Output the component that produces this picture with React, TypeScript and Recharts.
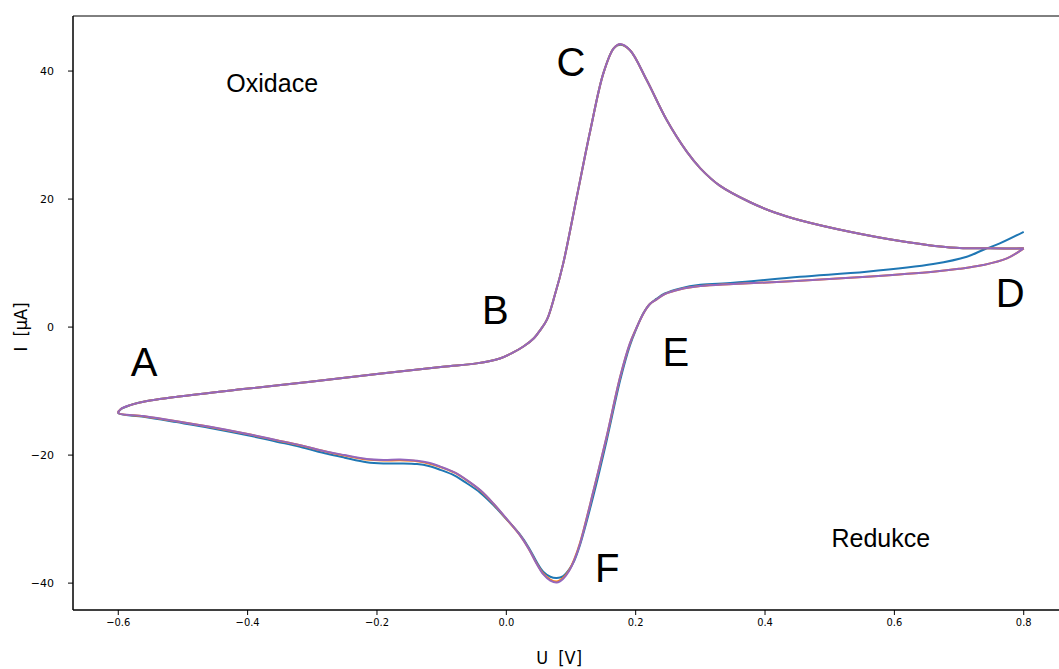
import React from 'react';
import {
  LineChart,
  Line,
  XAxis,
  YAxis,
  ReferenceArea,
  ReferenceDot,
} from 'recharts';

// later cycles: D -> E -> F -> A (reverse scan), then A -> B -> C -> D
const uSweep = [
  0.8, 0.774, 0.737, 0.7, 0.66, 0.557, 0.454, 0.351, 0.3, 0.269, 0.245, 0.232,
  0.222, 0.212, 0.2, 0.191, 0.176, 0.155, 0.135, 0.114, 0.105, 0.097, 0.088,
  0.078, 0.068, 0.057, 0.047, 0.035, 0.021, 0.0, -0.02, -0.04, -0.061, -0.08,
  -0.102, -0.12, -0.138, -0.164, -0.19, -0.216, -0.25, -0.277, -0.319, -0.355,
  -0.4, -0.458, -0.51, -0.561, -0.6,
  -0.596, -0.5815, -0.561, -0.509, -0.407, -0.303, -0.2, -0.098, -0.046,
  -0.01, 0.01, 0.027, 0.043, 0.053, 0.063, 0.075, 0.088, 0.109, 0.13, 0.15,
  0.166, 0.176, 0.191, 0.217, 0.248, 0.279, 0.3, 0.33, 0.377, 0.415, 0.454,
  0.531, 0.609, 0.686, 0.748, 0.8,
];

const iPurple = [
  12.3, 10.73, 9.69, 9.1, 8.64, 7.86, 7.23, 6.72, 6.4, 5.9, 5.15, 4.3, 3.6,
  2.14, -0.4, -2.55, -7.77, -17.14, -25.47, -33.8, -36.4, -38.1, -39.3, -39.9,
  -39.6, -38.6, -37.0, -34.7, -32.5, -29.9, -27.55, -25.5, -23.9, -22.7, -21.8,
  -21.2, -20.9, -20.7, -20.75, -20.6, -20.0, -19.48, -18.44, -17.66, -16.7,
  -15.58, -14.7, -13.9, -13.39,
  -12.8, -12.19, -11.67, -10.89, -9.69, -8.55, -7.34, -6.2, -5.67, -4.9, -4.0,
  -3.0, -1.7, -0.4, 1.2, 5.0, 9.95, 20.36, 30.78, 39.64, 43.55, 44.22, 43.28,
  38.59, 32.34, 27.4, 24.8, 22.1, 19.5, 17.9, 16.7, 14.9, 13.45, 12.45, 12.3,
  12.3,
];

const iOrange = [
  12.3, 10.73, 9.69, 9.1, 8.64, 7.86, 7.23, 6.72, 6.4, 5.9, 5.15, 4.3, 3.6,
  2.14, -0.4, -2.6, -7.8, -17.2, -25.5, -33.7, -36.3, -38.0, -39.15, -39.75,
  -39.45, -38.5, -36.95, -34.7, -32.5, -29.95, -27.6, -25.55, -23.95, -22.75,
  -21.85, -21.3, -20.95, -20.8, -20.85, -20.7, -20.05, -19.5, -18.46, -17.68,
  -16.72, -15.6, -14.72, -13.92, -13.4,
  -12.8, -12.19, -11.67, -10.89, -9.69, -8.55, -7.34, -6.2, -5.67, -4.9, -4.0,
  -3.0, -1.7, -0.4, 1.2, 5.0, 9.95, 20.36, 30.78, 39.64, 43.55, 44.2, 43.28,
  38.59, 32.34, 27.4, 24.8, 22.1, 19.5, 17.9, 16.7, 14.9, 13.45, 12.45, 12.3,
  12.3,
];

// first cycle starts with a higher current at 0.8 V
const uFirst = [
  0.8, 0.763, 0.737, 0.712, 0.66, 0.557, 0.454, 0.351, 0.3, 0.269, 0.245,
  0.232, 0.222, 0.212, 0.2, 0.191, 0.176, 0.155, 0.135, 0.114, 0.105, 0.097,
  0.088, 0.078, 0.068, 0.057, 0.047, 0.035, 0.021, 0.0, -0.02, -0.04, -0.061,
  -0.08, -0.102, -0.12, -0.138, -0.164, -0.19, -0.216, -0.25, -0.277, -0.319,
  -0.355, -0.4, -0.458, -0.51, -0.561, -0.6,
  -0.596, -0.5815, -0.561, -0.509, -0.407, -0.303, -0.2, -0.098, -0.046,
  -0.01, 0.01, 0.027, 0.043, 0.053, 0.063, 0.075, 0.088, 0.109, 0.13, 0.15,
  0.166, 0.176, 0.191, 0.217, 0.248, 0.279, 0.3, 0.33, 0.377, 0.415, 0.454,
  0.531, 0.609, 0.686, 0.748, 0.8,
];

const iBlue = [
  14.89, 13.08, 12.05, 10.98, 9.84, 8.64, 7.86, 6.92, 6.6, 6.05, 5.25, 4.4,
  3.6, 2.2, -0.5, -2.9, -8.3, -17.8, -26.2, -34.0, -36.5, -37.9, -38.9, -39.2,
  -39.0, -38.2, -36.7, -34.5, -32.4, -30.0, -27.8, -25.9, -24.4, -23.2, -22.3,
  -21.7, -21.4, -21.3, -21.3, -21.1, -20.4, -19.8, -18.7, -17.9, -16.9,
  -15.75, -14.85, -14.0, -13.45,
  -12.85, -12.19, -11.67, -10.89, -9.69, -8.55, -7.34, -6.2, -5.67, -4.9,
  -4.0, -3.0, -1.7, -0.4, 1.2, 5.0, 9.95, 20.36, 30.78, 39.64, 43.55, 44.1,
  43.28, 38.59, 32.34, 27.4, 24.8, 22.1, 19.5, 17.9, 16.7, 14.9, 13.45, 12.45,
  12.3, 12.3,
];

const xTicks = [-0.6, -0.4, -0.2, 0.0, 0.2, 0.4, 0.6, 0.8];
const yTicks = [-40, -20, 0, 20, 40];

const pointLabels = ['A', 'B', 'C', 'D', 'E', 'F'];
const pointU = [-0.56, -0.017, 0.1, 0.779, 0.262, 0.156];
const pointI = [-5.47, 2.66, 41.4, 5.31, -3.9, -37.66];

const regionLabels = ['Oxidace', 'Redukce'];
const regionU = [-0.362, 0.579];
const regionI = [38.1, -33.0];

const X_DOMAIN: [number, number] = [-0.67, 0.87];
const Y_DOMAIN: [number, number] = [-44.2, 48.6];

const toRows = (u: number[], i: number[]) =>
  u.map((v, k) => ({ u: v, i: i[k] }));

const minus = (s: string) => s.replace('-', '\u2212');

// centripetal catmull-rom, draws the loop through the points in data order
const loopCurve = (context: any) => {
  let pts: number[][] = [];
  return {
    areaStart() {},
    areaEnd() {},
    lineStart() {
      pts = [];
    },
    point(x: number, y: number) {
      pts.push([+x, +y]);
    },
    lineEnd() {
      const n = pts.length;
      if (!n) return;
      context.moveTo(pts[0][0], pts[0][1]);
      const d = (a: number[], b: number[]) => Math.hypot(b[0] - a[0], b[1] - a[1]);
      for (let k = 0; k < n - 1; k++) {
        const p0 = pts[k - 1] || pts[k];
        const p1 = pts[k];
        const p2 = pts[k + 1];
        const p3 = pts[k + 2] || pts[k + 1];
        const l01 = Math.sqrt(d(p0, p1));
        const l12 = Math.sqrt(d(p1, p2));
        const l23 = Math.sqrt(d(p2, p3));
        let c1 = p1.slice();
        let c2 = p2.slice();
        if (l01 > 1e-9) {
          const a = 2 * l01 * l01 + 3 * l01 * l12 + l12 * l12;
          const m = 3 * l01 * (l01 + l12);
          c1 = [0, 1].map(
            (j) => (p1[j] * a - p0[j] * l12 * l12 + p2[j] * l01 * l01) / m
          );
        }
        if (l23 > 1e-9) {
          const b = 2 * l23 * l23 + 3 * l23 * l12 + l12 * l12;
          const m = 3 * l23 * (l23 + l12);
          c2 = [0, 1].map(
            (j) => (p2[j] * b + p1[j] * l23 * l23 - p3[j] * l12 * l12) / m
          );
        }
        context.bezierCurveTo(c1[0], c1[1], c2[0], c2[1], p2[0], p2[1]);
      }
    },
  };
};

const tickFont = "'DejaVu Sans', sans-serif";
const titleFont = "'DejaVu Sans Condensed', 'DejaVu Sans', sans-serif";
const noteFont = "'Liberation Sans', Arial, sans-serif";

export default function App() {
  const series = [
    { name: 'cycle 1', rows: toRows(uFirst, iBlue), color: '#1f77b4' },
    { name: 'cycle 2', rows: toRows(uSweep, iOrange), color: '#ff7f0e' },
    { name: 'cycle 3', rows: toRows(uSweep, iPurple), color: '#9467bd' },
  ];

  return (
    <div
      style={{
        position: 'absolute',
        left: 0,
        top: 0,
        width: 1059,
        height: 669,
        overflow: 'hidden',
        background: '#fff',
      }}
    >
      <LineChart
        width={1100}
        height={669}
        margin={{ top: 16, right: 31, bottom: 0, left: 0 }}
      >
        <XAxis
          type='number'
          dataKey='u'
          domain={X_DOMAIN}
          allowDataOverflow
          ticks={xTicks}
          tickFormatter={(v: number) => minus(v.toFixed(1))}
          height={59}
          stroke='#000'
          tickSize={5}
          tickMargin={3}
          tick={{ fill: '#000', fontSize: 11, fontFamily: titleFont }}
        />
        <YAxis
          type='number'
          domain={Y_DOMAIN}
          allowDataOverflow
          ticks={yTicks}
          tickFormatter={(v: number) => minus(String(v))}
          width={73}
          stroke='#000'
          tickSize={5}
          tickMargin={14}
          tick={{ fill: '#000', fontSize: 11, fontFamily: tickFont }}
        />
        <ReferenceArea
          x1={X_DOMAIN[0]}
          x2={X_DOMAIN[1]}
          y1={Y_DOMAIN[0]}
          y2={Y_DOMAIN[1]}
          fill='none'
          stroke='#000'
          strokeWidth={1}
          fillOpacity={0}
        />
        {series.map((s) => (
          <Line
            key={s.name}
            data={s.rows}
            dataKey='i'
            type={loopCurve as any}
            stroke={s.color}
            strokeWidth={2}
            dot={false}
            activeDot={false}
            isAnimationActive={false}
          />
        ))}
        {pointLabels.map((t, k) => (
          <ReferenceDot
            key={t}
            x={pointU[k]}
            y={pointI[k]}
            r={0}
            fill='none'
            stroke='none'
            label={{
              value: t,
              position: 'center',
              fontSize: 40,
              fill: '#000',
              fontFamily: noteFont,
            }}
          />
        ))}
        {regionLabels.map((t, k) => (
          <ReferenceDot
            key={t}
            x={regionU[k]}
            y={regionI[k]}
            r={0}
            fill='none'
            stroke='none'
            label={{
              value: t,
              position: 'center',
              fontSize: 25,
              fill: '#000',
              fontFamily: noteFont,
            }}
          />
        ))}
        <ReferenceDot
          x={0.0816}
          y={-51.7}
          r={0}
          fill='none'
          stroke='none'
          ifOverflow='visible'
          label={{
            value: 'U \u00a0[V]',
            position: 'center',
            fontSize: 18,
            fill: '#000',
            fontFamily: titleFont,
          }}
        />
        <ReferenceDot
          x={-0.7515}
          y={0}
          r={0}
          fill='none'
          stroke='none'
          ifOverflow='visible'
          label={{
            value: 'I \u00a0[\u00b5A]',
            position: 'center',
            angle: -90,
            fontSize: 18,
            fill: '#000',
            fontFamily: titleFont,
          }}
        />
      </LineChart>
    </div>
  );
}
